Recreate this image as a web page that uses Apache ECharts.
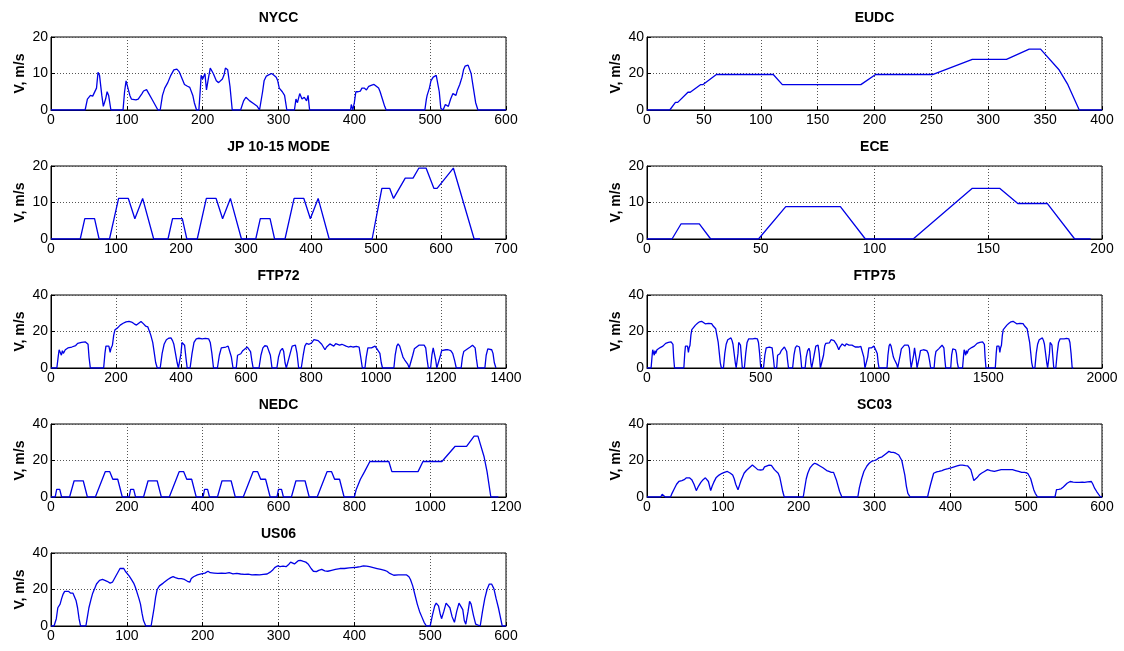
<!DOCTYPE html>
<html>
<head>
<meta charset="utf-8">
<script src="https://cdn.jsdelivr.net/npm/echarts@6/dist/echarts.min.js"></script>
<style>
  html, body { margin: 0; background: #fff; }
  #chart { width: 1124px; height: 651px; }
</style>
</head>
<body>
<div id="chart"></div>
<script>
// drive cycles, [time s, speed m/s]
const nycc = [[0,0],[45,0],[48,3],[52,4],[55,3.8],[57,4.3],[60,6],[62,10.3],[64,9.5],[67,4],[69,1],[72,3],[74,5],[76,4],[79,0],[95,0],[97,5],[99,8],[101,7.5],[104,4],[106,3],[108,3.3],[112,2.8],[115,3],[117,2.5],[120,4.5],[122,5.2],[126,5.6],[129,4.5],[133,3],[137,1.5],[141,0],[144,0],[147,4],[150,6],[154,7.5],[158,9.5],[162,11],[166,11.2],[169,10.5],[171,9.5],[174,8],[176,7],[180,6.5],[183,6.2],[185,6],[187,4],[189,2],[192,0],[195,0],[197,6],[198,9.5],[200,8.5],[203,10],[205,5.5],[207,8],[210,11.5],[212,12],[214,10],[218,8],[221,7.5],[223,7.5],[226,8.5],[228,9.5],[230,11.5],[233,11],[236,6.5],[239,0],[250,0],[254,2.5],[257,3.5],[262,2.5],[267,1.8],[272,1],[275,0],[277,0],[279,5],[281,8],[284,9.3],[287,9.6],[291,10],[294,9.5],[297,9],[299,8],[301,6],[303,5.5],[305,5],[308,4],[311,0],[321,0],[323,3],[325,2],[328,4.5],[331,3],[334,3.5],[337,2.5],[339,4],[341,0],[395,0],[396,1.5],[398,0],[400,2],[402,5],[405,5],[408,5.2],[410,6],[413,6],[416,5.5],[419,6.5],[423,6.8],[426,7],[429,6.5],[432,6],[434,5],[437,3],[440,1],[442,0],[493,0],[495,3],[496,4],[499,6],[501,8],[504,9],[506,9.3],[508,9.5],[510,9],[512,5],[514,0.5],[517,0],[520,1.5],[524,1],[527,3],[530,4.5],[532,4],[534,4],[536,5.5],[539,7],[542,9],[544,11],[546,12],[548,12.5],[550,12.3],[552,12],[554,10],[557,6],[560,2],[563,0],[600,0]];

const jp1015 = [[0,0],[45,0],[52,5.56],[67,5.56],[74,0],[90,0],[104,11.11],[119,11.11],[129,5.56],[141,11.11],[158,0],[180,0],[187,5.56],[202,5.56],[209,0],[225,0],[239,11.11],[254,11.11],[264,5.56],[276,11.11],[293,0],[315,0],[322,5.56],[337,5.56],[344,0],[360,0],[374,11.11],[389,11.11],[399,5.56],[411,11.11],[428,0],[494,0],[509,13.89],[521,13.89],[527,11.11],[545,16.67],[557,16.67],[566,19.44],[577,19.44],[589,13.89],[594,13.89],[619,19.44],[651,0],[660,0]];

const ftp72 = [[0,0],[18,0],[22,6],[25,10],[29,9],[32,7],[35,9.5],[38,8],[41,7],[44,10],[48,10.5],[52,11],[58,11.2],[64,11.5],[70,12],[76,12.3],[82,13.5],[88,13.8],[94,14],[100,14],[106,14.3],[111,14.8],[114,13],[117,6],[121,0],[162,0],[166,8],[169,12],[174,12.3],[178,12],[182,8.5],[185,11],[189,12.5],[193,18],[197,21],[205,22],[213,23.5],[222,24.5],[231,25.3],[240,25.6],[248,25.2],[256,24.2],[263,23.5],[270,24.5],[277,25.5],[284,24.3],[291,23],[298,22.5],[302,21.5],[307,18],[313,14],[318,8],[322,3],[327,0],[336,0],[342,8],[348,13],[355,15.5],[362,16.3],[369,16.5],[374,15],[378,13],[383,8],[388,3],[392,0],[396,0],[400,8],[403,14],[407,14],[411,12.5],[415,6],[419,0],[428,0],[434,8],[440,14],[447,16],[455,16.3],[465,16],[475,16.2],[485,16],[490,14],[495,8],[500,0],[512,0],[518,7],[524,11],[530,11.8],[538,11.5],[545,12],[550,11],[555,6],[560,0],[570,0],[574,7],[578,8],[584,7.8],[590,9.5],[596,10.5],[604,11.5],[610,12],[614,9],[618,4],[622,0],[640,0],[646,7],[652,11],[658,12.2],[665,12],[670,11.5],[675,7],[680,0],[695,0],[700,6],[706,9.5],[712,10.8],[716,9],[720,3],[724,0],[730,0],[736,8],[742,12],[748,13],[752,12.5],[757,8],[762,0],[770,0],[776,7],[781,12],[786,13.5],[794,13],[802,13.8],[809,15.5],[815,15.8],[822,15],[828,14.5],[833,13],[838,11.5],[843,10],[848,11.5],[853,12],[858,13.2],[864,12.5],[870,12],[876,13.3],[882,12.8],[888,12.5],[895,13],[901,12.5],[908,12],[915,11.5],[922,11.8],[930,11.5],[940,11.8],[948,11.5],[953,6],[958,0],[966,0],[970,6],[975,11],[980,12],[986,11],[992,11.5],[997,12],[1003,10.5],[1008,11],[1012,8],[1016,3],[1020,0],[1055,0],[1059,7],[1064,12],[1068,13.2],[1073,12],[1078,9],[1083,6],[1088,4.5],[1093,4],[1098,2],[1102,0],[1108,0],[1113,7],[1118,10.5],[1125,11.5],[1132,12.5],[1140,12.5],[1148,12.5],[1153,11],[1157,5],[1161,0],[1168,0],[1172,7],[1176,11],[1180,10],[1184,4],[1187,0],[1193,0],[1197,6],[1202,9.5],[1208,10.5],[1215,10],[1222,10],[1230,9.5],[1236,8],[1242,4],[1247,0],[1262,0],[1266,6],[1270,9],[1276,10],[1282,10.5],[1290,11.5],[1297,12.5],[1302,13],[1305,11],[1309,5],[1313,0],[1335,0],[1339,7],[1344,10.5],[1350,10.5],[1356,10],[1360,8],[1364,3],[1369,0]];

// FTP75 = FTP72 followed by the hot-start bag
const ftp75Tail = [[1387,0],[1391,6],[1394,10],[1398,9],[1401,7],[1404,9.5],[1407,8],[1410,7],[1413,10],[1417,10.5],[1421,11],[1427,11.2],[1433,11.5],[1439,12],[1445,12.3],[1451,13.5],[1457,13.8],[1463,14],[1469,14],[1475,14.3],[1480,14.8],[1483,13],[1486,6],[1490,0],[1531,0],[1535,8],[1538,12],[1543,12.3],[1547,12],[1551,8.5],[1554,11],[1558,12.5],[1562,18],[1566,21],[1574,22],[1582,23.5],[1591,24.5],[1600,25.3],[1609,25.6],[1617,25.2],[1625,24.2],[1632,23.5],[1639,24.5],[1646,25.5],[1653,24.3],[1660,23],[1667,22.5],[1671,21.5],[1676,18],[1682,14],[1687,8],[1691,3],[1696,0],[1705,0],[1711,8],[1717,13],[1724,15.5],[1731,16.3],[1738,16.5],[1743,15],[1747,13],[1752,8],[1757,3],[1761,0],[1765,0],[1769,8],[1772,14],[1776,14],[1780,12.5],[1784,6],[1788,0],[1797,0],[1803,8],[1809,14],[1816,16],[1824,16.3],[1834,16],[1844,16.2],[1854,16],[1859,14],[1864,8],[1869,0],[1874,0]];

const nedc = [[0,0],[11,0],[15,4.17],[23,4.17],[28,0],[49,0],[61,8.89],[85,8.89],[96,0],[117,0],[143,13.89],[155,13.89],[163,9.72],[176,9.72],[188,0],
  [206,0],[210,4.17],[218,4.17],[223,0],[244,0],[256,8.89],[280,8.89],[291,0],[312,0],[338,13.89],[350,13.89],[358,9.72],[371,9.72],[383,0],
  [401,0],[405,4.17],[413,4.17],[418,0],[439,0],[451,8.89],[475,8.89],[486,0],[507,0],[533,13.89],[545,13.89],[553,9.72],[566,9.72],[578,0],
  [596,0],[600,4.17],[608,4.17],[613,0],[634,0],[646,8.89],[670,8.89],[681,0],[702,0],[728,13.89],[740,13.89],[748,9.72],[761,9.72],[773,0],
  [800,0],[805,4.17],[807,4.17],[816,9.72],[818,9.72],[827,13.89],[829,13.89],[841,19.44],[891,19.44],[899,13.89],[968,13.89],[981,19.44],[1031,19.44],[1066,27.78],[1096,27.78],[1116,33.33],[1126,33.33],[1142,22.22],[1150,13.89],[1160,0],[1180,0]];

const us06 = [[0,0],[4,0],[7,4],[9,10],[12,12],[14,15],[16,17.5],[18,19],[20,20],[23,19],[26,18],[29,18],[31,17.5],[33,14],[35,10],[37,4],[39,0],[46,0],[48,5],[50,10],[53,15],[55,18],[58,21],[60,23],[64,25],[68,25.5],[71,25],[74,24.5],[78,23.5],[81,24],[83,25.5],[85,27],[87,28.5],[89,30],[91,31.5],[93,32],[96,31.5],[98,30],[100,29],[103,27.5],[106,25.5],[109,23.5],[111,21.5],[113,19],[116,15],[118,12],[120,7],[122,3],[125,0],[132,0],[134,5],[136,10],[138,16],[140,20],[143,22],[145,23],[148,23.5],[150,24],[154,25.5],[158,26.5],[161,27],[164,26.5],[168,26],[172,26],[176,25.5],[180,24.5],[183,24],[185,26],[188,27],[193,28],[198,28.5],[203,29],[207,30],[210,29.2],[215,29],[220,28.8],[225,29],[230,28.8],[235,29.2],[240,28.6],[245,28.8],[250,28.5],[255,28.3],[260,28.4],[265,28],[270,28.2],[275,28],[280,28.3],[285,28.5],[289,29.5],[292,30.5],[295,32],[299,33],[302,32.5],[306,32.8],[310,32.5],[313,33.5],[316,35],[318,34.5],[321,34],[323,35],[326,35.8],[329,36],[332,35.5],[336,35],[339,34],[341,33],[343,31.5],[346,30],[350,29.8],[353,30.5],[357,31],[361,30.2],[365,30],[370,30.5],[375,31],[381,31.5],[387,31.5],[393,31.8],[397,32],[403,32.2],[408,32.5],[412,33],[416,32.8],[420,32.5],[425,32],[430,31.5],[435,31],[440,30.5],[443,30],[446,29],[448,28],[452,27.8],[458,28],[464,28],[469,28],[472,27],[474,25.5],[477,22],[480,17],[483,12],[486,8],[489,5],[492,2],[495,0],[500,0],[503,6],[506,11],[508,12.5],[511,11],[513,7],[515,4],[518,8],[521,12.5],[523,13],[526,10],[529,5],[532,2],[535,8],[538,12.5],[540,13],[543,9],[545,3],[547,1],[550,8],[552,13.5],[554,12],[557,6],[560,1],[562,0],[566,0],[569,8],[572,15],[575,20],[578,23],[581,23],[584,20.5],[587,15],[590,10],[593,4],[595,0],[600,0]];

const eudc = [[0,0],[20,0],[25,4.17],[27,4.17],[36,9.72],[38,9.72],[47,13.89],[49,13.89],[61,19.44],[111,19.44],[119,13.89],[188,13.89],[201,19.44],[251,19.44],[286,27.78],[316,27.78],[336,33.33],[346,33.33],[362,22.22],[370,13.89],[380,0],[400,0]];

const ece = [[0,0],[11,0],[15,4.17],[23,4.17],[28,0],[49,0],[61,8.89],[85,8.89],[96,0],[117,0],[143,13.89],[155,13.89],[163,9.72],[176,9.72],[188,0],[195,0]];

const sc03 = [[0,0],[18,0],[20,1.5],[22,1.5],[24,0],[31,0],[33,2],[36,4.5],[39,7],[42,8.5],[46,9],[49,9.5],[52,10.5],[54,11],[56,10.5],[59,9.5],[62,7],[65,3.5],[68,6],[71,8],[74,9.5],[77,10.5],[79,10],[81,8.5],[84,3.5],[86,6],[88,8],[91,10.5],[95,12],[99,13],[102,13.5],[106,14],[110,13],[113,12],[115,10],[117,7],[120,4],[122,6.5],[124,9],[126,11],[128,13],[131,14.5],[135,16],[139,17.5],[142,16.5],[146,15],[150,14.8],[153,15],[155,16.5],[157,17],[161,17.5],[164,17.3],[166,16.5],[168,15],[170,14],[173,13],[175,11],[177,7],[179,3],[181,0],[206,0],[208,5],[210,10],[212,13],[215,16],[218,17.5],[221,18.5],[224,18],[228,17],[232,16],[237,14.5],[240,14],[243,13.5],[246,13.5],[248,13],[250,9],[252,6],[254,3],[257,0],[278,0],[280,5],[283,10],[286,14],[290,17],[293,18.5],[296,19.5],[300,20],[303,20.5],[306,21.5],[310,22],[313,23],[316,24],[319,25],[322,24.5],[325,24.5],[328,24],[332,23],[334,22],[336,20],[338,16],[340,12],[342,6],[344,2],[347,0],[370,0],[371,2],[374,7],[376,10],[378,13],[382,13.8],[385,14],[389,14.5],[392,15],[397,15.5],[401,16],[405,16.5],[409,17],[413,17.5],[416,17.5],[420,17.2],[423,17],[425,16],[427,15],[429,12],[431,9],[433,9.5],[435,10.5],[438,12],[441,13],[445,14],[449,15],[453,14.5],[458,14],[462,14.5],[467,15],[472,15],[477,15],[482,15],[486,14.5],[490,14],[494,13.5],[498,13.5],[502,13],[504,12],[506,10],[508,7],[510,4],[512,2],[515,0],[538,0],[540,4],[543,4.2],[546,4.5],[549,5.5],[551,6.5],[554,7.5],[558,8.5],[562,8.2],[566,8],[570,8],[574,8.2],[577,8],[581,8.3],[586,8.5],[588,7],[590,5],[593,3],[595,2],[598,0],[600,0]];

const panels = [
  { name: "NYCC", data: nycc, xMax: 600, xStep: 100, yMax: 20, yStep: 10, col: 0, row: 0 },
  { name: "JP 10-15 MODE", data: jp1015, xMax: 700, xStep: 100, yMax: 20, yStep: 10, col: 0, row: 1 },
  { name: "FTP72", data: ftp72, xMax: 1400, xStep: 200, yMax: 40, yStep: 20, col: 0, row: 2 },
  { name: "NEDC", data: nedc, xMax: 1200, xStep: 200, yMax: 40, yStep: 20, col: 0, row: 3 },
  { name: "US06", data: us06, xMax: 600, xStep: 100, yMax: 40, yStep: 20, col: 0, row: 4 },
  { name: "EUDC", data: eudc, xMax: 400, xStep: 50, yMax: 40, yStep: 20, col: 1, row: 0 },
  { name: "ECE", data: ece, xMax: 200, xStep: 50, yMax: 20, yStep: 10, col: 1, row: 1 },
  { name: "FTP75", data: ftp72.concat(ftp75Tail), xMax: 2000, xStep: 500, yMax: 40, yStep: 20, col: 1, row: 2 },
  { name: "SC03", data: sc03, xMax: 600, xStep: 100, yMax: 40, yStep: 20, col: 1, row: 3 },
];

const colLeft = [51, 647];
const rowTop = [37, 166, 295, 424, 553];
const plotW = 455;
const plotH = 73;
const font = "'Liberation Sans', Arial, sans-serif";

const grid = [], xAxis = [], yAxis = [], series = [], title = [];

panels.forEach((p, i) => {
  const left = colLeft[p.col];
  const top = rowTop[p.row];
  grid.push({ left, top, width: plotW, height: plotH, show: true, borderColor: "#000", borderWidth: 1 });
  title.push({
    text: p.name,
    left: left + plotW / 2,
    top: top - 26,
    textAlign: "center",
    padding: 0,
    textStyle: { fontSize: 14, fontWeight: "bold", color: "#000", fontFamily: font },
  });
  const gridLine = { show: true, lineStyle: { type: [1, 2], color: "#555", width: 1 } };
  xAxis.push({
    gridIndex: i,
    type: "value",
    min: 0,
    max: p.xMax,
    interval: p.xStep,
    axisLine: { lineStyle: { color: "#000" } },
    axisTick: { inside: true, length: 4, lineStyle: { color: "#000" } },
    axisLabel: { color: "#000", fontSize: 14, fontFamily: font, margin: 3, formatter: (v) => String(v) },
    splitLine: gridLine,
  });
  yAxis.push({
    gridIndex: i,
    type: "value",
    min: 0,
    max: p.yMax,
    interval: p.yStep,
    name: "V, m/s",
    nameLocation: "middle",
    nameGap: 24,
    nameTextStyle: { fontSize: 14, fontWeight: "bold", color: "#000", fontFamily: font },
    axisLine: { lineStyle: { color: "#000" } },
    axisTick: { inside: true, length: 4, lineStyle: { color: "#000" } },
    axisLabel: { color: "#000", fontSize: 14, fontFamily: font, margin: 3, formatter: (v) => String(v) },
    splitLine: gridLine,
  });
  series.push({
    type: "line",
    xAxisIndex: i,
    yAxisIndex: i,
    data: p.data,
    showSymbol: false,
    animation: false,
    lineStyle: { color: "#0000e6", width: 1.3 },
  });
});

const chart = echarts.init(document.getElementById("chart"));
chart.setOption({ animation: false, backgroundColor: "#fff", title, grid, xAxis, yAxis, series });

window.addEventListener("resize", () => {
  chart.resize();
});
</script>
</body>
</html>
